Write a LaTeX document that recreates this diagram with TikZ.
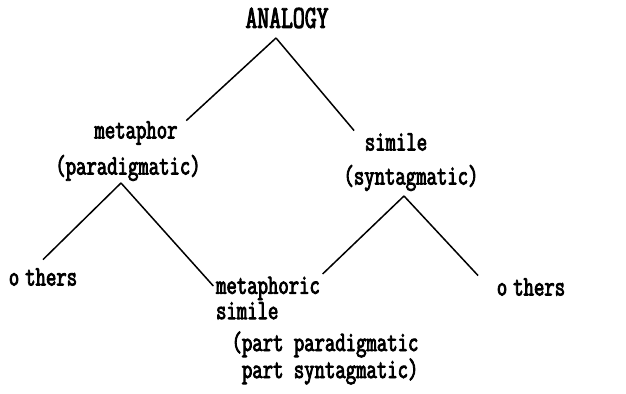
\documentclass[tikz,border=0pt]{standalone}
\usepackage{fontspec}
\newfontfamily\typew[FakeStretch=0.72, FakeBold=3]{Latin Modern Mono}
\usetikzlibrary{calc}

\begin{document}
\begin{tikzpicture}[x=0.5pt, y=-0.5pt, line width=0.75pt,
                    word/.style={font=\typew\fontsize{14}{10.5}\selectfont, inner sep=1pt, align=left}]
                      \useasboundingbox (0,0) rectangle (626,394);

                      % top
                      \node[word, font=\typew\fontsize{16}{12}\selectfont] (analogy) at (287,18) {ANALOGY};
                      \coordinate (atip) at (276,38);

                      % metaphor
                      \node[word] (metaphor) at (136,133) {metaphor};
                      \node[word] (paradig) at (128,168) {(paradigmatic)};
                      \coordinate (ptip) at (121,183);

                      % simile
                      \node[word] (simile) at (396,142) {simile};
                      \node[word] (syntag) at (411,178) {(syntagmatic)};
                      \coordinate (stip) at (404,196);

                      % bottom row
                      \node[word] (othersL) at (43,277) {o\kern3pt thers};
                      \node[word] (metsim) at (268,298) {metaphoric\\simile};
                      \node[word] (othersR) at (531,287) {o\kern3pt thers};
                      \node[word, font=\typew\fontsize{14}{13.5}\selectfont] (part) at (325,358) {(part paradigmatic\\\hphantom{(}part syntagmatic)};

                      % lines
                      \draw (atip) -- ([xshift=3pt,yshift=-1pt]metaphor.north east);
                      \draw (atip) -- ([xshift=-4pt]simile.north west);
                      \draw (ptip) -- ([yshift=3pt]othersL.north);
                      \draw (ptip) -- ($(metsim.north west)!0.5!(metsim.west)$);
                      \draw (stip) -- (metsim.north east);
                      \draw (stip) -- ([xshift=-8pt]othersR.north west);

                    \end{tikzpicture}
\end{document}
